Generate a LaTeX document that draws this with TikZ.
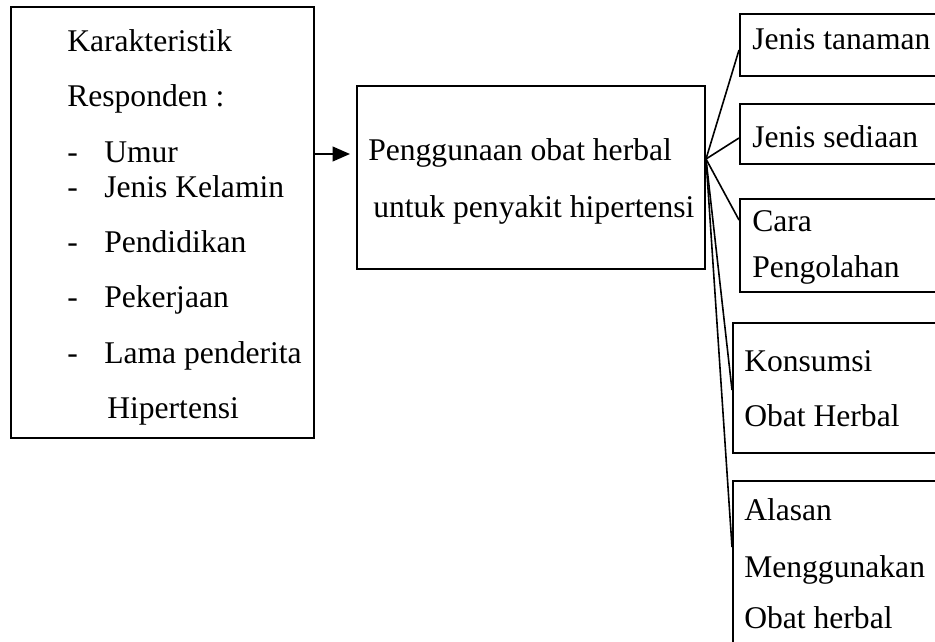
\documentclass[tikz,border=0pt]{standalone}
\usepackage{fontspec}
\setmainfont{Liberation Serif}
\usetikzlibrary{fit,arrows.meta}
\tikzset{
  box/.style={draw,line width=1.5pt,inner sep=0pt,fit={#1}},
  txt/.style={anchor=base west,inner sep=0pt},
  link/.style={line width=1.2pt},
  arr/.style={line width=1.4pt,-{Triangle[length=13pt,width=11pt]},shorten >=4.5pt}
}
\begin{document}
\begin{tikzpicture}[x=0.75pt,y=-0.75pt,font=\fontsize{23.7}{28}\selectfont]
\clip (0,0) rectangle (935,642);
% boxes
\node[box={(11,7) (314,438)}] (v1) {};
\node[box={(357,86) (705,269)}] (v2) {};
\node[box={(740,14) (965,76)}] (v3) {};
\node[box={(740,104) (965,164)}] (v4) {};
\node[box={(740,199) (965,292)}] (v5) {};
\node[box={(733,323) (965,453)}] (v6) {};
\node[box={(733,481) (965,700)}] (v7) {};

% left box text
\node[txt] (t1) at (67,52) {Karakteristik};
\node[txt] (t2) at (67,106) {Responden :};
\node[txt] (d1) at (67,162) {-};
\node[txt] (t3) at (104,162) {Umur};
\node[txt] (d2) at (67,197) {-};
\node[txt] (t4) at (104,197) {Jenis Kelamin};
\node[txt] (d3) at (67,252) {-};
\node[txt] (t5) at (104,252) {Pendidikan};
\node[txt] (d4) at (67,307) {-};
\node[txt] (t6) at (104,307) {Pekerjaan};
\node[txt] (d5) at (67,363) {-};
\node[txt] (t7) at (104,363) {Lama penderita};
\node[txt] (t8) at (107,418) {Hipertensi};

% middle box text
\node[txt] (t9) at (368,160) {Penggunaan obat herbal};
\node[txt] (t10) at (373,217) {untuk penyakit hipertensi};

% right box text
\node[txt] (t11) at (752,50) {Jenis tanaman};
\node[txt] (t12) at (752,147) {Jenis sediaan};
\node[txt] (t13) at (752,231) {Cara};
\node[txt] (t14) at (752,277) {Pengolahan};
\node[txt] (t15) at (744,371) {Konsumsi};
\node[txt] (t16) at (744,426) {Obat Herbal};
\node[txt] (t17) at (744,520) {Alasan};
\node[txt] (t18) at (744,577) {Menggunakan};
\node[txt] (t19) at (744,628) {Obat herbal};

\coordinate (a0) at (v1.east |- 0,154);
\coordinate (fan) at (v2.east |- 0,159);
\draw[arr] (a0) -- (a0 -| v2.west);
\draw[link] (fan) -- (v3.west |- 0,50);
\draw[link] (fan) -- (v4.west |- 0,138);
\draw[link] (fan) -- (v5.west |- 0,220);
\draw[link] (fan) -- (v6.west |- 0,390);
\draw[link] (fan) -- (v7.west |- 0,547);
\end{tikzpicture}
\end{document}
